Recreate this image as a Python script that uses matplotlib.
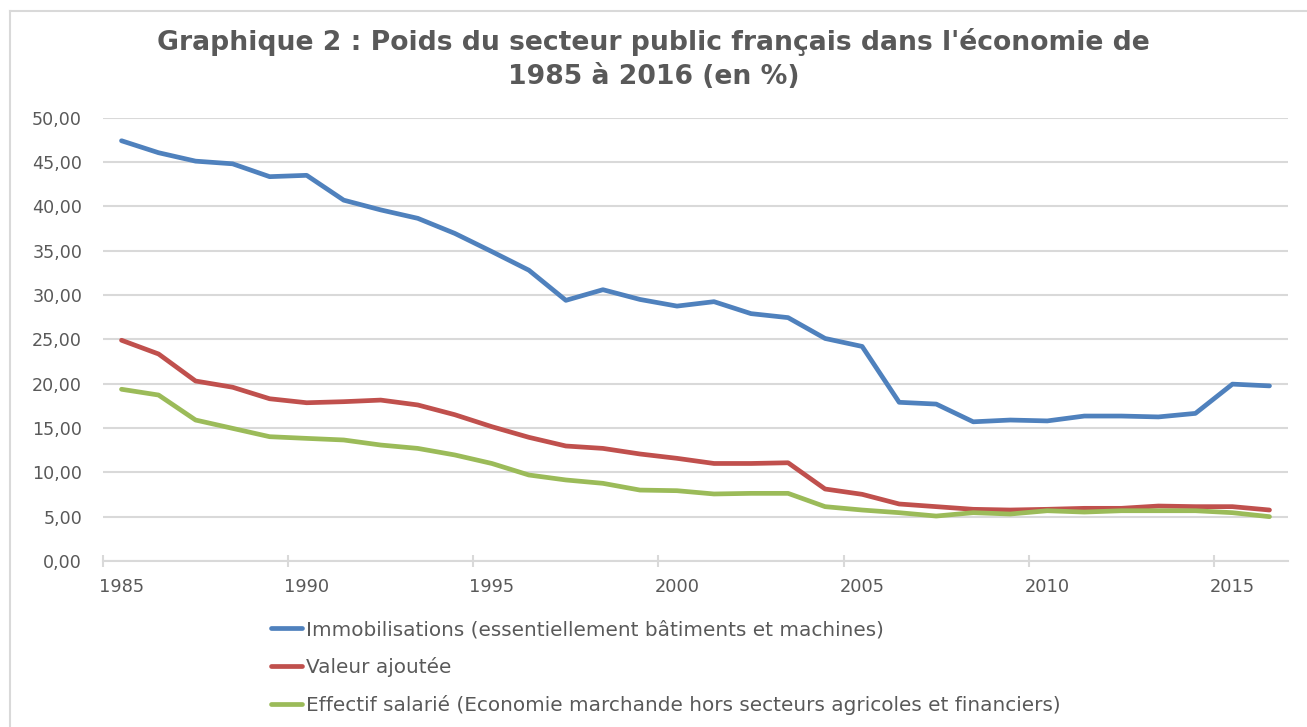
import matplotlib.pyplot as plt
from matplotlib.lines import Line2D

years = list(range(1985, 2017))

immobilisations = [47.4, 46.05, 45.1, 44.8, 43.35, 43.5, 40.7, 39.6, 38.65, 36.95,
                   34.9, 32.8, 29.4, 30.6, 29.5, 28.75, 29.25, 27.9, 27.45, 25.1,
                   24.2, 17.9, 17.7, 15.7, 15.9, 15.8, 16.35, 16.35, 16.25, 16.65,
                   19.95, 19.75]
valeur_ajoutee = [24.9, 23.35, 20.3, 19.6, 18.3, 17.85, 17.97, 18.15, 17.6, 16.5,
                  15.15, 13.95, 12.97, 12.7, 12.07, 11.58, 11.0, 11.0, 11.08, 8.12,
                  7.52, 6.43, 6.13, 5.83, 5.75, 5.83, 5.94, 5.94, 6.2, 6.13,
                  6.13, 5.75]
effectif = [19.37, 18.72, 15.9, 14.96, 14.02, 13.83, 13.65, 13.08, 12.7, 11.96,
            11.0, 9.7, 9.14, 8.76, 8.0, 7.93, 7.56, 7.63, 7.63, 6.13,
            5.75, 5.45, 5.07, 5.45, 5.3, 5.67, 5.52, 5.67, 5.67, 5.67,
            5.45, 5.0]

labels = ["Immobilisations (essentiellement bâtiments et machines)",
          "Valeur ajoutée",
          "Effectif salarié (Economie marchande hors secteurs agricoles et financiers)"]
colors = ["#4F81BD", "#C0504D", "#9BBB59"]
tick_years = [1985, 1990, 1995, 2000, 2005, 2010, 2015]
y_ticks = [0, 5, 10, 15, 20, 25, 30, 35, 40, 45, 50]
title_lines = ["Graphique 2 : Poids du secteur public français dans l'économie de",
               "1985 à 2016 (en %)"]

W, H = 1307, 727
fig = plt.figure(figsize=(W / 100, H / 100), dpi=100)
plt.rcParams['font.family'] = ['DejaVu Sans']
txt = "#595959"
grid = "#D9D9D9"

# outer chart frame: only the top and left edges are inside the picture
fig.add_artist(Line2D([10 / W, 1], [1 - 11 / H, 1 - 11 / H], transform=fig.transFigure,
                      color=grid, linewidth=1.5))
fig.add_artist(Line2D([10 / W, 10 / W], [0, 1 - 11 / H], transform=fig.transFigure,
                      color=grid, linewidth=1.5))

left, right, top, bottom = 103, 1288, 117.7, 561
ax = fig.add_axes([left / W, (H - bottom) / H, (right - left) / W, (bottom - top) / H])

xs = list(range(len(years)))
for vals, c in zip([immobilisations, valeur_ajoutee, effectif], colors):
    ax.plot(xs, vals, color=c, linewidth=3.4, solid_capstyle="round", solid_joinstyle="round", zorder=3)

ax.set_xlim(-0.5, len(years) - 0.5)
ax.set_ylim(0, 50)
ax.set_yticks(y_ticks)
ax.set_yticklabels([("%.2f" % v).replace(".", ",") for v in y_ticks], fontsize=12.6, color=txt)
ax.yaxis.grid(True, color=grid, linewidth=1.5)
ax.tick_params(axis="y", length=0, pad=15)

# category axis: tick marks between categories, year labels under the categories
ax.set_xticks([y - 1985 - 0.5 for y in tick_years])
ax.set_xticklabels([])
ax.tick_params(axis="x", which="major", direction="inout", length=8, width=1.5, color=grid)
ax.set_xticks([y - 1985 for y in tick_years], minor=True)
ax.set_xticklabels([str(y) for y in tick_years], minor=True, fontsize=12.8, color=txt)
ax.tick_params(axis="x", which="minor", length=0, pad=12.5)

for s in ["top", "right", "left"]:
    ax.spines[s].set_visible(False)
ax.spines["bottom"].set_color(grid)
ax.spines["bottom"].set_linewidth(1.5)
ax.set_axisbelow(True)

fig.text(0.5, 1 - 50 / H, title_lines[0], ha="center", va="baseline",
         fontsize=19.2, fontweight="bold", color=txt)
fig.text(0.5, 1 - 84 / H, title_lines[1], ha="center", va="baseline",
         fontsize=19.2, fontweight="bold", color=txt)

handles = [Line2D([0], [0], color=c, linewidth=3.4, solid_capstyle="round") for c in colors]
leg = fig.legend(handles, labels, loc="upper left", bbox_to_anchor=(271 / W, 1 - 620 / H),
                 ncol=1, frameon=False, fontsize=14.4, handlelength=1.55, handletextpad=0.2,
                 labelspacing=0.9, borderpad=0, borderaxespad=0)
for t in leg.get_texts():
    t.set_color(txt)

fig.savefig("out.png", dpi=100)
